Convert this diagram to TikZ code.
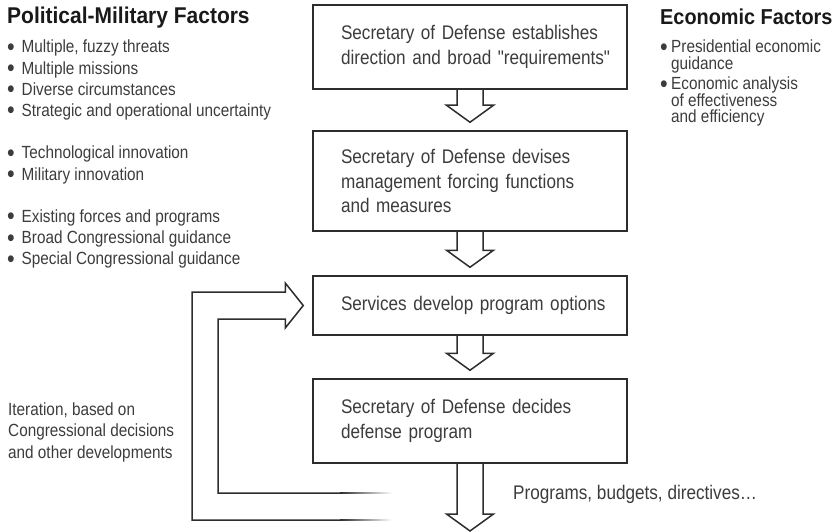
\documentclass[tikz,border=0pt]{standalone}
\usepackage{fontspec}
\setmainfont{Liberation Sans}[FakeStretch=0.87,Ligatures=TeXOff]
\newfontfamily\titlefont{Liberation Sans}[FakeStretch=0.92,Ligatures=TeXOff]
\usetikzlibrary{calc}
\definecolor{linec}{RGB}{45,45,45}
\definecolor{textc}{RGB}{60,60,60}
\definecolor{titlec}{RGB}{25,25,25}
\newcommand\bulmark{\smash{\raisebox{-2.2pt}{\fontsize{25}{25}\selectfont •}}}
\newcommand\bulL{\makebox[14.5pt][l]{\bulmark}}
\newcommand\bulR{\makebox[11pt][l]{\bulmark}}
\begin{document}
\begin{tikzpicture}[x=1pt,y=-1pt,
  title/.style={anchor=base west,inner sep=0pt,text=titlec},
  item/.style={anchor=base west,inner sep=0pt,text=textc,font=\fontsize{17.6}{21}\selectfont},
  boxtext/.style={anchor=base west,inner sep=0pt,text=textc,font=\fontsize{19.7}{24.5}\selectfont},
  box/.style={draw=linec,line width=1.5pt,minimum width=314pt,text width=258pt,inner xsep=28pt,inner ysep=0pt,align=left,text=textc,font=\fontsize{19.7}{24.5}\selectfont},
  conn/.style={draw=linec,line width=1.5pt,line join=miter}]
\useasboundingbox (0,0) rectangle (836,532);

% left column
\node[title,font=\titlefont\fontsize{22.8}{26}\selectfont\bfseries] (pmt) at (7,23.5) {Political-Military Factors};
\node[item] (pm1) at (7,53) {\bulL Multiple, fuzzy threats};
\node[item] (pm2) at (7,74.2) {\bulL Multiple missions};
\node[item] (pm3) at (7,95.4) {\bulL Diverse circumstances};
\node[item] (pm4) at (7,116.6) {\bulL Strategic and operational uncertainty};
\node[item] (pm5) at (7,159) {\bulL Technological innovation};
\node[item] (pm6) at (7,180.2) {\bulL Military innovation};
\node[item] (pm7) at (7,222.6) {\bulL Existing forces and programs};
\node[item] (pm8) at (7,243.8) {\bulL Broad Congressional guidance};
\node[item] (pm9) at (7,265) {\bulL Special Congressional guidance};

% right column
\node[title,font=\titlefont\fontsize{21.6}{26}\selectfont\bfseries] (ect) at (660,24.5) {Economic Factors};
\node[item] (ec1) at (660,53) {\bulR Presidential economic};
\node[item] (ec1b) at (671,69.5) {guidance};
\node[item] (ec2) at (660,90) {\bulR Economic analysis};
\node[item] (ec2b) at (671,106.5) {of effectiveness};
\node[item] (ec2c) at (671,123) {and efficiency};

% iteration label
\node[item] (it1) at (8,415) {Iteration, based on};
\node[item] (it2) at (8,436.5) {Congressional decisions};
\node[item] (it3) at (8,458) {and other developments};

% boxes
\node[box,minimum height=84pt] (b1) at (470,47) {\mbox{Secretary of Defense establishes}\\\mbox{direction and broad "requirements"}};
\node[box,minimum height=100pt] (b2) at (470,181) {\mbox{Secretary of Defense devises}\\\mbox{management forcing functions}\\\mbox{and measures}};
\node[box,minimum height=59pt] (b3) at (470,305.5) {\mbox{Services develop program options}};
\node[box,minimum height=84pt] (b4) at (470,421) {\mbox{Secretary of Defense decides}\\\mbox{defense program}};

\node[boxtext] (out) at (513,499) {Programs, budgets, directives…};

% hollow down arrows
\coordinate (t1) at ([yshift=8pt]b2.north);
\coordinate (t2) at ([yshift=8pt]b3.north);
\coordinate (t3) at ([yshift=8pt]b4.north);
\coordinate (t4) at (470,531);
\foreach \a/\t in {b1/t1,b2/t2,b3/t3,b4/t4}{
  \draw[conn] let \p1=(\a.south), \p2=(\t) in
    (\x1-13pt,\y1) -- (\x1-13pt,\y2+17pt) -- (\x1-23.5pt,\y2+17pt) -- (\x1,\y2)
    -- (\x1+23.5pt,\y2+17pt) -- (\x1+13pt,\y2+17pt) -- (\x1+13pt,\y1);
}

% feedback arrow
\coordinate (fb) at ([xshift=-9pt]b3.west);
\coordinate (fbo) at (340,520);
\coordinate (fbi) at (340,493);
\draw[conn] let \p1=(fb), \p2=(fbo), \p3=(fbi) in
  (\p2) -- (192pt,\y2) -- (192pt,\y1+13.5pt) -- (\x1-18pt,\y1+13.5pt)
  -- (\x1-18pt,\y1+22.5pt) -- (\p1) -- (\x1-18pt,\y1-22.5pt)
  -- (\x1-18pt,\y1-13.5pt) -- (218pt,\y1-13.5pt) -- (218pt,\y3) -- (\p3);
\shade[left color=linec,right color=white] (340,519.25) rectangle (392,520.75);
\shade[left color=linec,right color=white] (340,492.25) rectangle (392,493.75);
\end{tikzpicture}
\end{document}
